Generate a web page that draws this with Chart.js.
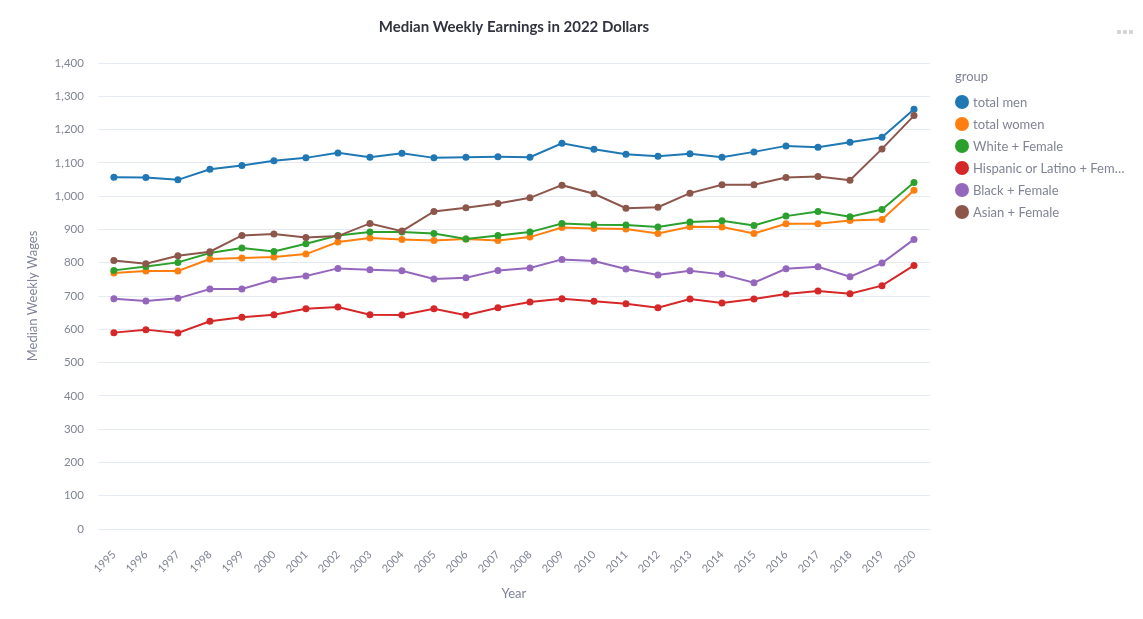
<!DOCTYPE html>
<html>
<head>
<meta charset="utf-8">
<title>Median Weekly Earnings in 2022 Dollars</title>
<script src="https://cdn.jsdelivr.net/npm/chart.js@4.4.1/dist/chart.umd.min.js"></script>
<style>
  body { margin: 0; background: #fff; font-family: "Source Sans Pro", Lato, sans-serif; }
  #wrap { position: relative; width: 1143px; height: 619px; }
  #legend { position: absolute; left: 955px; top: 67px; color: #808495; font-size: 13px; }
  #legend .title { line-height: 18px; margin-bottom: 6px; }
  #legend .item { display: flex; align-items: center; height: 22px; }
  #legend .dot { width: 14px; height: 14px; border-radius: 50%; margin-right: 4px; flex: none; }
  #legend .name { max-width: 157px; white-space: nowrap; overflow: hidden; text-overflow: ellipsis; }
  #menu { position: absolute; left: 1117px; top: 30px; display: flex; gap: 2px; }
  #menu span { width: 4px; height: 4px; border-radius: 1px; background: #d4d4d8; }
</style>
</head>
<body>
<div id="wrap">
  <canvas id="myChart" width="1143" height="619"></canvas>
  <div id="legend"></div>
  <div id="menu"><span></span><span></span><span></span></div>
</div>
<script>
const years = ["1995", "1996", "1997", "1998", "1999", "2000", "2001", "2002", "2003", "2004", "2005", "2006", "2007",
  "2008", "2009", "2010", "2011", "2012", "2013", "2014", "2015", "2016", "2017", "2018", "2019", "2020"];

const totalMen = [1057, 1056, 1049, 1081, 1092, 1106, 1115, 1130, 1117, 1129, 1115, 1117, 1118,
  1117, 1159, 1141, 1126, 1120, 1127, 1117, 1133, 1151, 1147, 1162, 1177, 1261];
const totalWomen = [769, 775, 775, 811, 814, 817, 826, 862, 874, 870, 867, 871, 867,
  877, 906, 903, 901, 888, 908, 907, 888, 917, 917, 927, 930, 1018];
const whiteFemale = [777, 789, 801, 829, 844, 834, 857, 882, 892, 892, 888, 871, 882,
  892, 918, 914, 913, 907, 922, 926, 912, 940, 954, 938, 960, 1041];
const hispanicFemale = [590, 599, 589, 624, 636, 644, 662, 667, 644, 643, 662, 642, 665,
  682, 692, 684, 677, 665, 691, 679, 691, 706, 715, 707, 731, 792];
const blackFemale = [692, 685, 693, 721, 721, 749, 760, 783, 779, 776, 751, 755, 777,
  784, 810, 805, 781, 763, 776, 765, 740, 782, 788, 758, 799, 870];
const asianFemale = [807, 797, 821, 833, 882, 886, 876, 880, 918, 895, 954, 965, 978,
  995, 1033, 1007, 964, 967, 1009, 1034, 1034, 1056, 1059, 1048, 1142, 1242];

const seriesNames = ["total men", "total women", "White + Female", "Hispanic or Latino + Female", "Black + Female", "Asian + Female"];
const seriesColors = ["#1f77b4", "#ff7f0e", "#2ca02c", "#d62728", "#9467bd", "#8c564b"];
const seriesValues = [totalMen, totalWomen, whiteFemale, hispanicFemale, blackFemale, asianFemale];

document.addEventListener("DOMContentLoaded", () => {
  const ctx = document.getElementById("myChart").getContext("2d");
  const legend = document.getElementById("legend");

  Chart.defaults.font.family = '"Source Sans Pro", Lato, sans-serif';
  Chart.defaults.color = "#808495";

  // legend built as html so it can sit where the original one does
  legend.innerHTML = `<div class="title">group</div>`;
  seriesNames.forEach((name, i) => {
    legend.innerHTML += `
      <div class="item">
        <span class="dot" style="background:${seriesColors[i]}"></span>
        <span class="name">${name}</span>
      </div>`;
  });

  const datasets = seriesNames.map((name, i) => ({
    label: name,
    data: seriesValues[i],
    borderColor: seriesColors[i],
    backgroundColor: seriesColors[i],
    pointBackgroundColor: seriesColors[i],
    borderWidth: 2,
    pointRadius: 3.5,
    pointBorderWidth: 0,
    tension: 0,
    order: seriesNames.length - i,
  }));

  const myChart = new Chart(ctx, {
    type: "line",
    data: { labels: years, datasets: datasets },
    options: {
      responsive: false,
      animation: false,
      layout: { padding: { left: 0, right: 213, top: 0, bottom: 0 } },
      plugins: {
        legend: { display: false },
        tooltip: { enabled: false },
        title: {
          display: true,
          fullSize: false,
          text: "Median Weekly Earnings in 2022 Dollars",
          color: "#31333F",
          font: { size: 15, weight: "bold" },
          padding: { top: 18, bottom: 27 },
        },
      },
      scales: {
        x: {
          offset: true,
          grid: { display: false },
          border: { display: false },
          ticks: { minRotation: 45, maxRotation: 45, autoSkip: false, padding: 11, font: { size: 11 } },
          title: { display: true, text: "Year", font: { size: 13 }, padding: { top: 0, bottom: 17 } },
        },
        y: {
          min: 0,
          max: 1400,
          grid: { color: "#e6eaf1", drawTicks: false },
          border: { display: false },
          ticks: {
            stepSize: 100,
            padding: 14,
            font: { size: 11.5 },
            callback: (value) => value.toLocaleString("en-US"),
          },
          title: { display: true, text: "Median Weekly Wages", font: { size: 13 }, padding: { top: 25, bottom: 0 } },
        },
      },
    },
  });
});
</script>
</body>
</html>
